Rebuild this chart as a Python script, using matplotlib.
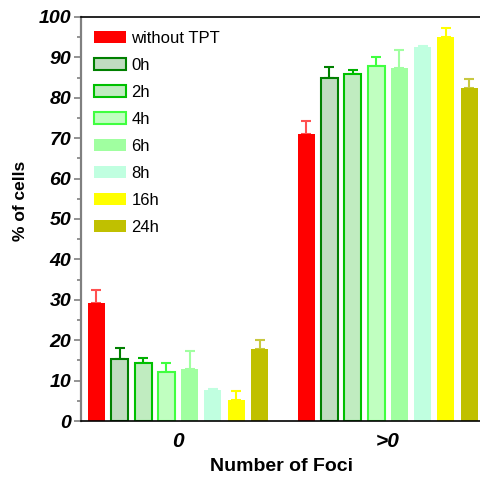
import numpy as np
import matplotlib
matplotlib.use('Agg')
import matplotlib.pyplot as plt
from matplotlib.ticker import MultipleLocator

plt.rcParams['font.family'] = ['Liberation Sans', 'DejaVu Sans']

# data
groups = ['0', '>0']
series = ['without TPT', '0h', '2h', '4h', '6h', '8h', '16h', '24h']
vals_zero = [29.2, 15.3, 14.3, 12.2, 12.9, 7.7, 5.2, 17.8]
err_zero = [3.3, 2.7, 1.2, 2.1, 4.4, 0.2, 2.3, 2.2]
vals_pos = [71.0, 84.8, 85.8, 87.9, 87.4, 92.6, 95.0, 82.4]
err_pos = [3.2, 2.8, 1.0, 2.3, 4.4, 0.2, 2.4, 2.3]

faces = ['#FF0000', '#C0DCC0', '#C0ECC0', '#C0FFC0', '#A0FFA0', '#C0FFE0', '#FFFF00', '#C0C000']
edges = ['#FF0000', '#008000', '#00C000', '#40FF40', '#A0FFA0', '#C0FFE0', '#FFFF00', '#C0C000']
errc = ['#FF5050', '#008000', '#00B000', '#40FF40', '#A0FFA0', '#C0FFE0', '#FFFF00', '#C8C840']
lws = [0, 1.5, 1.5, 1.5, 0, 0, 0, 0]

fig = plt.figure(figsize=(4.8, 4.79), dpi=100)
ax = fig.add_axes([81/480, 58/479, 399/480, 404/479])

width = 0.73
group_start = [0, 9]
handles = []
for i, name in enumerate(series):
    xs = np.array(group_start) + i
    ys = [vals_zero[i], vals_pos[i]]
    es = [err_zero[i], err_pos[i]]
    b = ax.bar(xs, ys, width, color=faces[i], edgecolor=edges[i],
               linewidth=lws[i], label=name, zorder=2)
    handles.append(b)
    ax.errorbar(xs, ys, yerr=[[0, 0], es], fmt='none', ecolor=errc[i],
                elinewidth=1.5, capsize=3.5, capthick=1.5, zorder=1)

ax.set_xlim(-0.665, 16.46)
ax.set_ylim(0, 100)
ax.set_xticks([3.5, 12.5])
ax.set_xticklabels(groups, fontsize=15, fontweight='bold', fontstyle='italic')
ax.tick_params(axis='x', length=0, pad=8)
ax.yaxis.set_major_locator(MultipleLocator(10))
ax.yaxis.set_minor_locator(MultipleLocator(5))
ax.tick_params(axis='y', which='major', length=5, width=1.2, color='#808080', pad=2)
ax.tick_params(axis='y', which='minor', length=3, width=1.2, color='#808080')
for lab in ax.get_yticklabels():
    lab.set_fontsize(14)
    lab.set_fontweight('bold')
    lab.set_fontstyle('italic')

ax.spines['left'].set_color('#808080')
ax.spines['left'].set_linewidth(1.6)
ax.spines['right'].set_visible(False)
ax.spines['top'].set_linewidth(1.2)
ax.spines['bottom'].set_linewidth(1.2)

ax.set_ylabel('% of cells', fontsize=12.5, fontweight='bold')
ax.yaxis.set_label_coords(-53/399, (421-201)/404)
ax.set_xlabel('Number of Foci', fontsize=14, fontweight='bold')
ax.xaxis.set_label_coords((282-81)/399, -(458-421)/404)

ax.legend(handles=handles, loc='upper left', bbox_to_anchor=(13/399, 1 - 14/404),
          frameon=False, fontsize=12, handlelength=1.9, handleheight=0.72,
          handletextpad=0.35, labelspacing=0.72, borderaxespad=0, borderpad=0)

fig.text(86/480, 1 - 478.5/479, 'FIG. 10 C', fontsize=22, color='#909090',
         family='Liberation Serif', va='top', ha='left')

fig.savefig('out.png', dpi=100)
